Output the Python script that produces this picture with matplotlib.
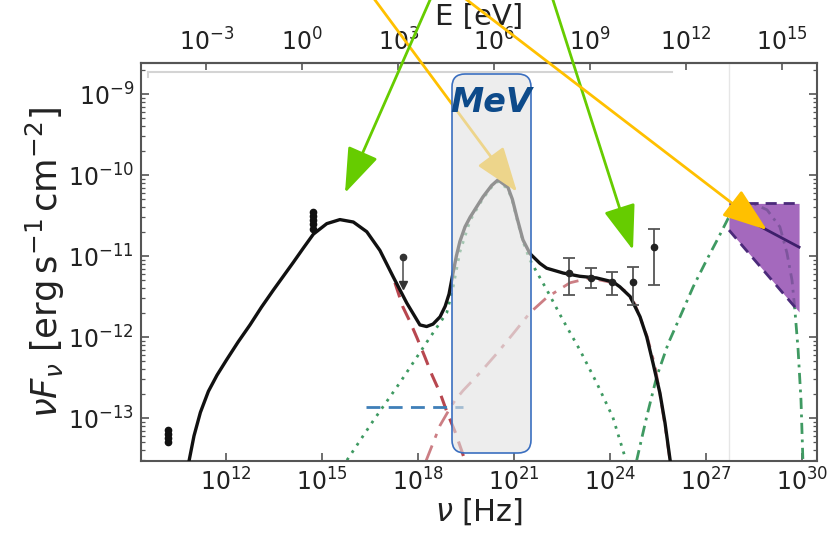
import numpy as np
import matplotlib
matplotlib.use("Agg")
import matplotlib.pyplot as plt
from matplotlib.patches import FancyBboxPatch, FancyArrowPatch
from matplotlib.lines import Line2D
from matplotlib.transforms import IdentityTransform
from matplotlib.ticker import NullLocator, FixedLocator, LogLocator, NullFormatter

# ---------------- data: log10(nu / Hz), log10(nuFnu / erg s^-1 cm^-2) ----------------
total_lognu = [10.85, 11.00, 11.20, 11.45, 11.72, 12.02, 12.38, 12.75, 13.11, 13.48,
               13.79, 14.10, 14.42, 14.73, 15.15, 15.56, 15.98, 16.40, 16.81, 17.23,
               17.65, 18.06, 18.27, 18.47, 18.69, 18.85, 18.97, 19.09, 19.20, 19.31,
               19.47, 19.63, 20.03, 20.30, 20.50, 20.81, 20.95, 21.09, 21.28, 21.50,
               21.81, 22.02, 22.54, 23.06, 23.58, 24.10, 24.31, 24.63, 24.94, 25.15,
               25.35, 25.56, 25.72, 25.88]
total_logF = [-13.52, -13.22, -12.93, -12.67, -12.47, -12.28, -12.06, -11.85, -11.63, -11.42,
              -11.25, -11.08, -10.90, -10.73, -10.60, -10.55, -10.58, -10.70, -10.93, -11.26,
              -11.58, -11.85, -11.87, -11.84, -11.75, -11.62, -11.47, -11.22, -11.00, -10.82,
              -10.64, -10.52, -10.27, -10.13, -10.06, -10.15, -10.30, -10.52, -10.80, -10.97,
              -11.09, -11.15, -11.21, -11.25, -11.27, -11.32, -11.38, -11.50, -11.75, -12.00,
              -12.33, -12.69, -13.06, -13.52]

sync_lognu = [17.28, 17.53, 17.75, 17.97, 18.22, 18.44, 18.69, 18.91, 19.16, 19.38, 19.47]
sync_logF = [-11.33, -11.63, -11.81, -12.01, -12.25, -12.47, -12.69, -12.93, -13.17, -13.42, -13.53]

ic_lognu = [18.25, 18.38, 18.69, 18.91, 19.16, 19.41, 19.94, 20.47, 20.97, 21.50, 22.03,
            22.75, 23.38, 24.09, 24.47, 24.78, 25.16, 25.41, 25.56, 25.72, 25.88]
ic_logF = [-13.53, -13.40, -13.09, -12.94, -12.78, -12.66, -12.44, -12.20, -11.96, -11.70, -11.51,
           -11.33, -11.27, -11.33, -11.43, -11.59, -11.99, -12.36, -12.70, -13.10, -13.54]

pp_lognu = [15.78, 16.59, 17.44, 18.28, 18.90, 19.09, 19.31, 19.63, 20.03, 20.30, 20.50,
            20.81, 20.95, 21.09, 21.28, 21.50, 22.03, 22.53, 23.06, 23.59, 24.09, 24.50]
pp_logF = [-13.52, -13.04, -12.56, -12.06, -11.70, -11.40, -10.95, -10.56, -10.29, -10.15, -10.08,
           -10.17, -10.32, -10.54, -10.82, -11.05, -11.42, -11.79, -12.16, -12.57, -12.99, -13.52]

had_lognu = [24.83, 25.15, 25.46, 25.82, 26.19, 26.60, 27.02, 27.38, 27.70, 28.16, 28.53,
             28.91, 29.31, 29.53, 29.69, 29.78, 29.88, 29.97, 30.03]
had_logF = [-13.53, -12.98, -12.49, -12.08, -11.75, -11.38, -11.05, -10.78, -10.53, -10.37, -10.36,
            -10.43, -10.64, -10.96, -11.30, -11.67, -12.16, -12.78, -13.53]

blue_lognu = [16.38, 19.40]
blue_logF = [-12.86, -12.86]

bow_lognu = [27.72, 29.91]
bow_upper = [-10.35, -10.35]
bow_lower = [-10.68, -11.69]
bow_fit = [-10.43, -10.89]

radio_lognu = [10.19, 10.19, 10.19, 10.19]
radio_logF = [-13.15, -13.20, -13.25, -13.30]
opt_lognu = [14.72, 14.72, 14.72, 14.72, 14.72]
opt_logF = [-10.46, -10.51, -10.56, -10.61, -10.66]
xul_lognu = [17.53]
xul_logF = [-11.01]
xul_low = [-11.36]

fermi_lognu = [22.72, 23.41, 24.06, 24.72, 25.38]
fermi_logF = [-11.21, -11.27, -11.32, -11.32, -10.89]
fermi_lo = [-11.48, -11.40, -11.48, -11.60, -11.36]
fermi_hi = [-11.02, -11.15, -11.20, -11.14, -10.67]

nu_ticks = [1e12, 1e15, 1e18, 1e21, 1e24, 1e27, 1e30]
E_ticks = [1e-3, 1e0, 1e3, 1e6, 1e9, 1e12, 1e15]
F_ticks = [1e-13, 1e-12, 1e-11, 1e-10, 1e-9]
h_eV = 4.135667e-15


def p(a):
    return 10.0 ** np.asarray(a, dtype=float)


W, H = 838, 533
fig = plt.figure(figsize=(W / 100, H / 100), dpi=100)
ax = fig.add_axes([141 / W, (H - 461) / H, (817 - 141) / W, (461 - 63) / H])
ax.set_xscale('log')
ax.set_yscale('log')
ax.set_xlim(10 ** 9.344, 10 ** 30.47)
ax.set_ylim(10 ** -13.53, 10 ** -8.617)

# model curves
ax.plot(p(pp_lognu), p(pp_logF), color='#3f9a62', lw=2, ls=(0, (1, 2.2)), zorder=2)
ax.plot(p(had_lognu), p(had_logF), color='#3f9a62', lw=2, ls=(0, (4, 2, 1, 2)), zorder=2)
ax.plot(p(sync_lognu), p(sync_logF), color='#b8474f', lw=2.2, ls=(0, (5, 3)), zorder=2)
ax.plot(p(ic_lognu), p(ic_logF), color='#cc7e84', lw=2, ls=(0, (6, 3, 1.5, 3)), zorder=2)
ax.plot(p(blue_lognu), p(blue_logF), color='#3f7fb8', lw=2, ls=(0, (5, 3)), zorder=2)
ax.plot(p(total_lognu), p(total_logF), color='#111111', lw=2.4, zorder=3,
        solid_joinstyle='round')

# bow tie
ax.axvline(p(bow_lognu[0]), color='#e6e6e6', lw=1, zorder=1)
ax.fill_between(p(bow_lognu), p(bow_lower), p(bow_upper), color='#8e44ad', alpha=0.8,
                lw=0, zorder=4)
ax.plot(p(bow_lognu), p(bow_upper), color='#4b2a7a', lw=2, ls=(0, (4, 2.5)), zorder=5)
ax.plot(p(bow_lognu), p(bow_lower), color='#4b2a7a', lw=2, ls=(0, (4, 2.5)), zorder=5)
ax.plot(p(bow_lognu), p(bow_fit), color='#3e1f6b', lw=2, zorder=5)

# data points
ax.plot(p(radio_lognu), p(radio_logF), 'o', color='#111111', ms=4.5, zorder=6)
ax.plot(p(opt_lognu), p(opt_logF), 'o', color='#111111', ms=4.5, zorder=6)
xv = p(xul_logF)
ax.errorbar(p(xul_lognu), xv, yerr=[xv - p(xul_low), np.zeros(1)], fmt='o', color='#333333',
            ecolor='#666666', ms=4.5, capsize=0, elinewidth=1.3, zorder=6)
ax.plot(p(xul_lognu), p(xul_low), 'v', color='#333333', ms=6, zorder=6)
fv = p(fermi_logF)
ax.errorbar(p(fermi_lognu), fv, yerr=[fv - p(fermi_lo), p(fermi_hi) - fv], fmt='o',
            color='#222222', ecolor='#555555', ms=4.5, capsize=4, elinewidth=1.3,
            capthick=1.3, zorder=6)

# axes styling
for s in ax.spines.values():
    s.set_color('#555555')
    s.set_linewidth(1.5)
ax.xaxis.set_major_locator(FixedLocator(nu_ticks))
ax.xaxis.set_minor_locator(NullLocator())
ax.yaxis.set_major_locator(FixedLocator(F_ticks))
ax.yaxis.set_minor_locator(LogLocator(base=10, subs=np.arange(2, 10), numticks=20))
ax.yaxis.set_minor_formatter(NullFormatter())
ax.tick_params(which='both', direction='in', right=True, top=False, colors='#555555',
               labelcolor='#222222', labelsize=17)
ax.tick_params(which='major', length=6, width=1.2, pad=5)
ax.tick_params(which='minor', length=3, width=0.9)
ax.set_xlabel(r'$\nu$ [Hz]', fontsize=22, color='#222222', labelpad=1)
ax.set_ylabel(r'$\nu F_\nu$ [erg$\,$s$^{-1}\,$cm$^{-2}$]', fontsize=25.5, color='#222222',
              labelpad=1)

sec = ax.secondary_xaxis('top', functions=(lambda x: x * h_eV, lambda e: e / h_eV))
sec.set_xscale('log')
sec.xaxis.set_major_locator(FixedLocator(E_ticks))
sec.xaxis.set_minor_locator(NullLocator())
sec.tick_params(which='major', direction='in', length=5, width=1.2, colors='#555555',
                labelcolor='#222222', labelsize=17, pad=5)
sec.spines['top'].set_color('#555555')
sec.spines['top'].set_linewidth(1.5)
sec.set_xlabel('E [eV]', fontsize=21, color='#222222', labelpad=3)

# ---------------- overlays (figure pixels) ----------------
ident = IdentityTransform()


def fpx(x, y):
    return (x, H - y)


# remnant of a legend frame
fig.add_artist(Line2D([148, 672], [H - 72, H - 72], color='#d4d4d4', lw=1.5, transform=ident,
                      zorder=3))
fig.add_artist(Line2D([148, 148], [H - 72, H - 77], color='#d4d4d4', lw=1.5, transform=ident,
                      zorder=3))

green = '#66cc00'
yellow = '#ffc000'
astyle = '-|>,head_length=28,head_width=10'

# yellow arrow that ends in the MeV box (below the box)
fig.add_artist(FancyArrowPatch(fpx(375 - 7.4, -10), fpx(517, 192), arrowstyle=astyle,
                               mutation_scale=1, lw=2, color=yellow, shrinkA=0, shrinkB=0,
                               transform=ident, zorder=5))

# MeV box
box = FancyBboxPatch(fpx(452, 453), 79, 379, boxstyle='round,pad=0,rounding_size=13',
                     facecolor='#e2e2e2', edgecolor='none', alpha=0.62, transform=ident,
                     zorder=6)
fig.add_artist(box)
boxe = FancyBboxPatch(fpx(452, 453), 79, 379, boxstyle='round,pad=0,rounding_size=13',
                      facecolor='none', edgecolor='#3b6fc0', lw=1.2, transform=ident, zorder=6.5)
fig.add_artist(boxe)
fig.text(491 / W, (H - 103) / H, 'MeV', ha='center', va='center', fontsize=24,
         color='#0d4a8a', style='italic', fontweight='bold', zorder=7)

# other arrows on top
fig.add_artist(FancyArrowPatch(fpx(430 + 4.4, -10), fpx(345, 193), arrowstyle=astyle,
                               mutation_scale=1, lw=2, color=green, shrinkA=0, shrinkB=0,
                               transform=ident, zorder=8))
fig.add_artist(FancyArrowPatch(fpx(553 - 3.2, -10), fpx(633, 250), arrowstyle=astyle,
                               mutation_scale=1, lw=2, color=green, shrinkA=0, shrinkB=0,
                               transform=ident, zorder=8))
fig.add_artist(FancyArrowPatch(fpx(467 - 13, -10), fpx(767, 230), arrowstyle=astyle,
                               mutation_scale=1, lw=2, color=yellow, shrinkA=0, shrinkB=0,
                               transform=ident, zorder=8))

fig.savefig('out.png', dpi=100)
